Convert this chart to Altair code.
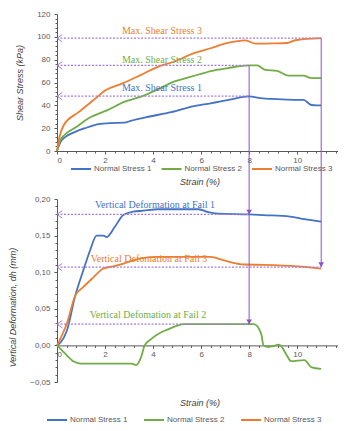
import altair as alt
import pandas as pd

SERIES = ["Normal Stress 1", "Normal Stress 2", "Normal Stress 3"]
COLORS = ["#4472C4", "#70AD47", "#ED7D31"]

# ---- Shear stress (kPa) vs strain (%) ----
shear1_x = [0, 0.15, 0.35, 0.76, 1.17, 1.72, 2.2, 2.8, 3.1, 3.8, 4.75, 5.7, 6.4, 7.2, 8.0, 8.47, 9.16, 9.58, 10.26, 10.6, 10.8, 11.0]
shear1_y = [0, 8, 12.4, 16.8, 20, 23.5, 24.5, 24.8, 26.6, 30, 34, 39.4, 41.8, 45, 47.8, 46.3, 45.4, 45, 44.7, 40.3, 40, 40]
shear2_x = [0, 0.15, 0.3, 0.8, 1.3, 2.1, 2.8, 3.5, 4.2, 4.9, 5.4, 5.9, 6.4, 7.1, 8.0, 8.33, 8.68, 9.16, 9.64, 10.26, 10.6, 11.0]
shear2_y = [0, 10, 13.8, 21, 28.5, 35.8, 43, 47.6, 54, 61, 64, 67, 70, 72.6, 75, 75, 71, 70.2, 66, 66, 63.8, 63.8]
shear3_x = [0, 0.1, 0.28, 0.9, 1.6, 2.0, 2.7, 3.5, 4.3, 4.9, 5.7, 6.4, 7.1, 7.85, 8.26, 9.0, 9.58, 9.92, 11.0]
shear3_y = [0, 12, 22.6, 34, 46, 53, 59, 66.7, 74.6, 78.4, 85.8, 90, 94.6, 96.9, 94, 94.2, 94.6, 97, 98.8]

# ---- Vertical deformation dh (mm) vs strain (%) ----
deform1_x = [0, 0.15, 0.41, 0.76, 1.1, 1.38, 1.65, 1.93, 2.07, 2.41, 2.76, 3.17, 3.6, 4.2, 5.9, 6.3, 6.7, 8.0, 8.6, 9.7, 10.3, 11.0]
deform1_y = [0, 0.004, 0.02, 0.068, 0.103, 0.13, 0.15, 0.15, 0.148, 0.162, 0.178, 0.1826, 0.184, 0.186, 0.186, 0.182, 0.180, 0.179, 0.178, 0.176, 0.1725, 0.169]
deform2_x = [0, 0.3, 0.7, 1.0, 3.1, 3.3, 3.5, 3.65, 3.93, 4.34, 4.6, 5.0, 5.3, 8.2, 8.5, 8.6, 8.75, 9.0, 9.25, 9.57, 9.74, 10.3, 10.6, 11.0]
deform2_y = [0, -0.01, -0.022, -0.025, -0.025, -0.027, -0.016, 0, 0.009, 0.018, 0.0215, 0.027, 0.029, 0.029, 0.016, 0.0, -0.002, -0.001, 0.001, -0.0137, -0.0215, -0.020, -0.030, -0.032]
deform3_x = [0, 0.41, 0.76, 1.1, 1.52, 1.93, 2.34, 2.89, 3.5, 4.2, 6.4, 6.96, 7.8, 8.6, 10.0, 11.0]
deform3_y = [0, 0.03, 0.068, 0.080, 0.093, 0.105, 0.108, 0.113, 0.119, 0.121, 0.121, 0.116, 0.1105, 0.110, 0.108, 0.105]

# ---- Annotations ----
max_labels = ["Max. Shear Stress 1", "Max. Shear Stress 2", "Max. Shear Stress 3"]
max_strain = [8.0, 8.0, 11.0]
max_shear = [48.0, 75.0, 98.8]
max_label_x = [4.37, 4.37, 4.37]
max_label_y = [55.2, 80.0, 105.5]

fail_labels = ["Vertical  Deformation  at Fail 1", "Vertical  Defomation  at Fail 2", "Vertical  Defomation  at Fail 3"]
fail_strain = [8.0, 8.0, 11.0]
fail_deform = [0.179, 0.029, 0.107]
fail_label_x = [4.08, 3.79, 3.83]
fail_label_y = [0.192, 0.041, 0.118]

drop_strain = [8.0, 11.0]
drop_top = [75.0, 98.8]
drop_bottom = [0.029, 0.107]

X_TICKS = [0, 2, 4, 6, 8, 10]
SHEAR_TICKS = [0, 20, 40, 60, 80, 100, 120]
DEFORM_TICKS = [-0.05, 0.0, 0.05, 0.10, 0.15, 0.20]
X_MINOR = [round(i * 0.4, 2) for i in range(30) if i % 5]
SHEAR_MINOR = [i * 4 for i in range(31) if i % 5]
DEFORM_MINOR = [round(-0.05 + i * 0.01, 2) for i in range(26) if i % 5]

# ---- Layout / style ----
X_MAX = 11.7
W, H_TOP, H_BOT, GAP = 281, 137, 183, 48
PURPLE = "#8a52c8"
PURPLE_DOT = "#a67ddf"
AXIS_COLOR = "#595959"
SANS = "Liberation Sans"
SERIF = "Liberation Serif"
CHEVRON = "M1,-0.7 L0,0 L1,0.7"
TRI_DOWN = "M-0.6,-1 L0.6,-1 L0,0 Z"


def series_df(xs_list, ys_list):
    rows = []
    for name, xs, ys in zip(SERIES, xs_list, ys_list):
        for i, (x, y) in enumerate(zip(xs, ys)):
            rows.append({"series": name, "strain": x, "value": y, "order": i})
    return pd.DataFrame(rows)


def legend(lx, ly, pad):
    return alt.Legend(orient="none", legendX=lx, legendY=ly, direction="horizontal",
                      title=None, symbolType="stroke", symbolSize=400, symbolStrokeWidth=2,
                      labelFont=SANS, labelFontSize=8, labelColor=AXIS_COLOR,
                      columnPadding=pad, labelOffset=2)


x_scale = alt.Scale(domain=[0, X_MAX], nice=False, zero=False)


def build(df, y_scale, y_axis, y_minor, x_offset, x_title_pad, leg, hl_df, v_df, v_y2, tri_df, texts):
    lines = alt.Chart(df).mark_line(strokeWidth=1.8, interpolate="monotone").encode(
        x=alt.X("strain:Q", scale=x_scale,
                axis=alt.Axis(values=X_TICKS, format="d", title="Strain (%)", orient="bottom",
                              offset=x_offset, titlePadding=x_title_pad, titleX=W * 0.5 + 2)),
        y=alt.Y("value:Q", scale=y_scale, axis=y_axis),
        color=alt.Color("series:N", scale=alt.Scale(domain=SERIES, range=COLORS), legend=leg),
        order="order:Q",
    )
    minor = alt.Chart(df).mark_point(opacity=0).encode(
        x=alt.X("strain:Q", axis=alt.Axis(values=X_MINOR, labels=False, domain=False, tickSize=2,
                                          title=None, orient="bottom", offset=x_offset)),
        y=alt.Y("value:Q", axis=alt.Axis(values=y_minor, labels=False, domain=False, tickSize=2,
                                         title=None, orient="left")),
    )
    hl = alt.Chart(hl_df).mark_rule(strokeDash=[2, 1.5], color=PURPLE_DOT, strokeWidth=1.2).encode(
        x=alt.X("start:Q", axis=None), x2="strain:Q", y=alt.Y("value:Q", axis=None))
    chev = alt.Chart(hl_df).mark_point(shape=CHEVRON, filled=False, size=110, strokeWidth=1,
                                       color=PURPLE_DOT, opacity=1).encode(
        x=alt.X("start:Q", axis=None), y=alt.Y("value:Q", axis=None))
    vr = alt.Chart(v_df).mark_rule(color=PURPLE, strokeWidth=1).encode(
        x=alt.X("strain:Q", axis=None), y=alt.Y("value:Q", axis=None), y2=alt.value(v_y2))
    layers = [lines, minor, hl, chev, vr]
    if tri_df is not None:
        layers.append(alt.Chart(tri_df).mark_point(shape=TRI_DOWN, filled=True, size=90,
                                                   color=PURPLE, opacity=1).encode(
            x=alt.X("strain:Q", axis=None), y=alt.Y("value:Q", axis=None)))
    for lab, tx, ty, col in texts:
        layers.append(alt.Chart(pd.DataFrame({"label": [lab], "strain": [tx], "value": [ty]}))
                      .mark_text(font=SERIF, fontSize=10, color=col)
                      .encode(x=alt.X("strain:Q", axis=None), y=alt.Y("value:Q", axis=None),
                              text="label:N"))
    return alt.layer(*layers).resolve_axis(x="independent", y="independent")


# Top chart
shear_df = series_df([shear1_x, shear2_x, shear3_x], [shear1_y, shear2_y, shear3_y])
max_df = pd.DataFrame({"start": [0.0] * 3, "strain": max_strain, "value": max_shear})
vtop_df = pd.DataFrame({"strain": drop_strain, "value": drop_top})
top = build(
    shear_df,
    alt.Scale(domain=[0, 120], nice=False),
    alt.Axis(values=SHEAR_TICKS, format="d", title="Shear Stress  (kPa)", orient="left", titlePadding=12),
    SHEAR_MINOR, 0, 13, legend(13, 144, 5.5),
    max_df, vtop_df, H_TOP + GAP, None,
    list(zip(max_labels, max_label_x, max_label_y, COLORS)),
).properties(width=W, height=H_TOP)

# Bottom chart
deform_df = series_df([deform1_x, deform2_x, deform3_x], [deform1_y, deform2_y, deform3_y])
fail_df = pd.DataFrame({"start": [0.0] * 3, "strain": fail_strain, "value": fail_deform})
vbot_df = pd.DataFrame({"strain": drop_strain, "value": drop_bottom})
tri_df = pd.DataFrame({"strain": fail_strain, "value": fail_deform})
x_off = -H_BOT * 0.05 / 0.25
bottom = build(
    deform_df,
    alt.Scale(domain=[-0.05, 0.20], nice=False, zero=False),
    alt.Axis(values=DEFORM_TICKS, labelExpr="replace(format(datum.value, '.2f'), '.', ',')",
             title="Vertical  Deformation,  dh (mm)", orient="left", titlePadding=12, titleY=108),
    DEFORM_MINOR, x_off, 40, legend(-11, 210, 12),
    fail_df, vbot_df, 0, tri_df,
    list(zip(fail_labels, fail_label_x, fail_label_y, COLORS)),
).properties(width=W, height=H_BOT)

chart = alt.vconcat(top, bottom, spacing=GAP, bounds="flush").resolve_scale(
    color="independent"
).resolve_legend(color="independent").properties(
    padding={"left": 0, "top": 2, "right": 0, "bottom": 0}
).configure(font=SANS, background="white").configure_view(stroke=None).configure_axis(
    grid=False, domainColor=AXIS_COLOR, tickColor=AXIS_COLOR, labelColor=AXIS_COLOR,
    labelFont=SANS, labelFontSize=8, titleFont=SANS, titleFontSize=9, titleFontStyle="italic",
    titleFontWeight="normal", titleColor="#404040", tickSize=3,
).configure_axisX(labelPadding=2).configure_axisY(labelPadding=4)

chart.save("out.html", embed_options={"renderer": "svg", "actions": False})
